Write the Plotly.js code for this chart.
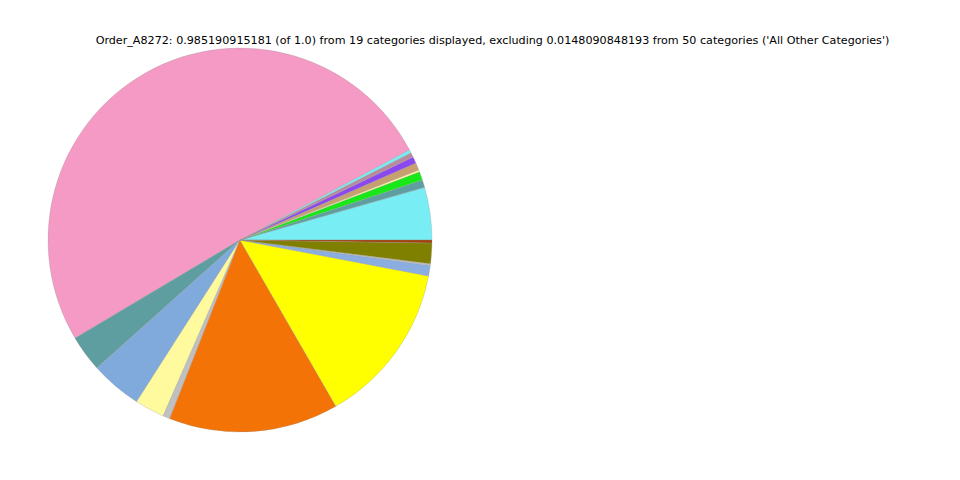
<!DOCTYPE html>
<html>
<head>
<meta charset="utf-8">
<script src="https://cdn.plot.ly/plotly-3.0.1.min.js"></script>
<style>html,body{margin:0;padding:0;background:#fff;}#chart{width:960px;height:480px;}</style>
</head>
<body>
<div id="chart"></div>
<script>
// Categories in drawing order (counterclockwise from 3 o'clock)
const categories = ["Cat01","Cat02","Cat03","Cat04","Cat05","Cat06","Cat07","Cat08","Cat09","Cat10",
                    "Cat11","Cat12","Cat13","Cat14","Cat15","Cat16","Cat17","Cat18","Cat19"];
const values = [0.0442,0.0064,0.0072,0.0017,0.0061,0.0056,0.0039,0.0028,0.5075,0.0308,
                0.0433,0.0250,0.0058,0.1430,0.1367,0.0089,0.0014,0.0172,0.0025];
const colors = ["#78edf4","#5f9ea0","#18e818","#fffa9e","#c8a070","#8b47f0","#b88b9e","#78edf4","#f49ac4","#5f9ea0",
                "#7faadb","#fffa9e","#c0c0c0","#f47306","#ffff00","#8aaee0","#c0c0c0","#808000","#a0420a"];
const titleText = "Order_A8272: 0.985190915181 (of 1.0) from 19 categories displayed, excluding 0.0148090848193 from 50 categories ('All Other Categories')";

const total = values.reduce((a, b) => a + b, 0);
// Plotly places the first counterclockwise slice ending at the rotation angle;
// shift so the first slice starts at 3 o'clock.
const rot = 90 - values[0] / total * 360;

const trace = {
  type: "pie",
  labels: categories,
  values: values,
  sort: false,
  direction: "counterclockwise",
  rotation: rot,
  textinfo: "none",
  hoverinfo: "label+value",
  marker: {colors: colors, line: {color: "#999999", width: 0.3}},
  domain: {x: [0.05, 0.45], y: [0.1, 0.9]}
};

const layout = {
  width: 960, height: 480,
  margin: {l: 0, r: 0, t: 0, b: 0},
  paper_bgcolor: "#ffffff",
  showlegend: false,
  title: {
    text: titleText,
    font: {family: "DejaVu Sans", size: 11.15, color: "#000"},
    x: 0.513, xanchor: "center", xref: "paper",
    y: 1 - 40/480, yanchor: "middle", yref: "paper"
  }
};

Plotly.newPlot("chart", [trace], layout, {displayModeBar: false, staticPlot: true});
</script>
</body>
</html>
